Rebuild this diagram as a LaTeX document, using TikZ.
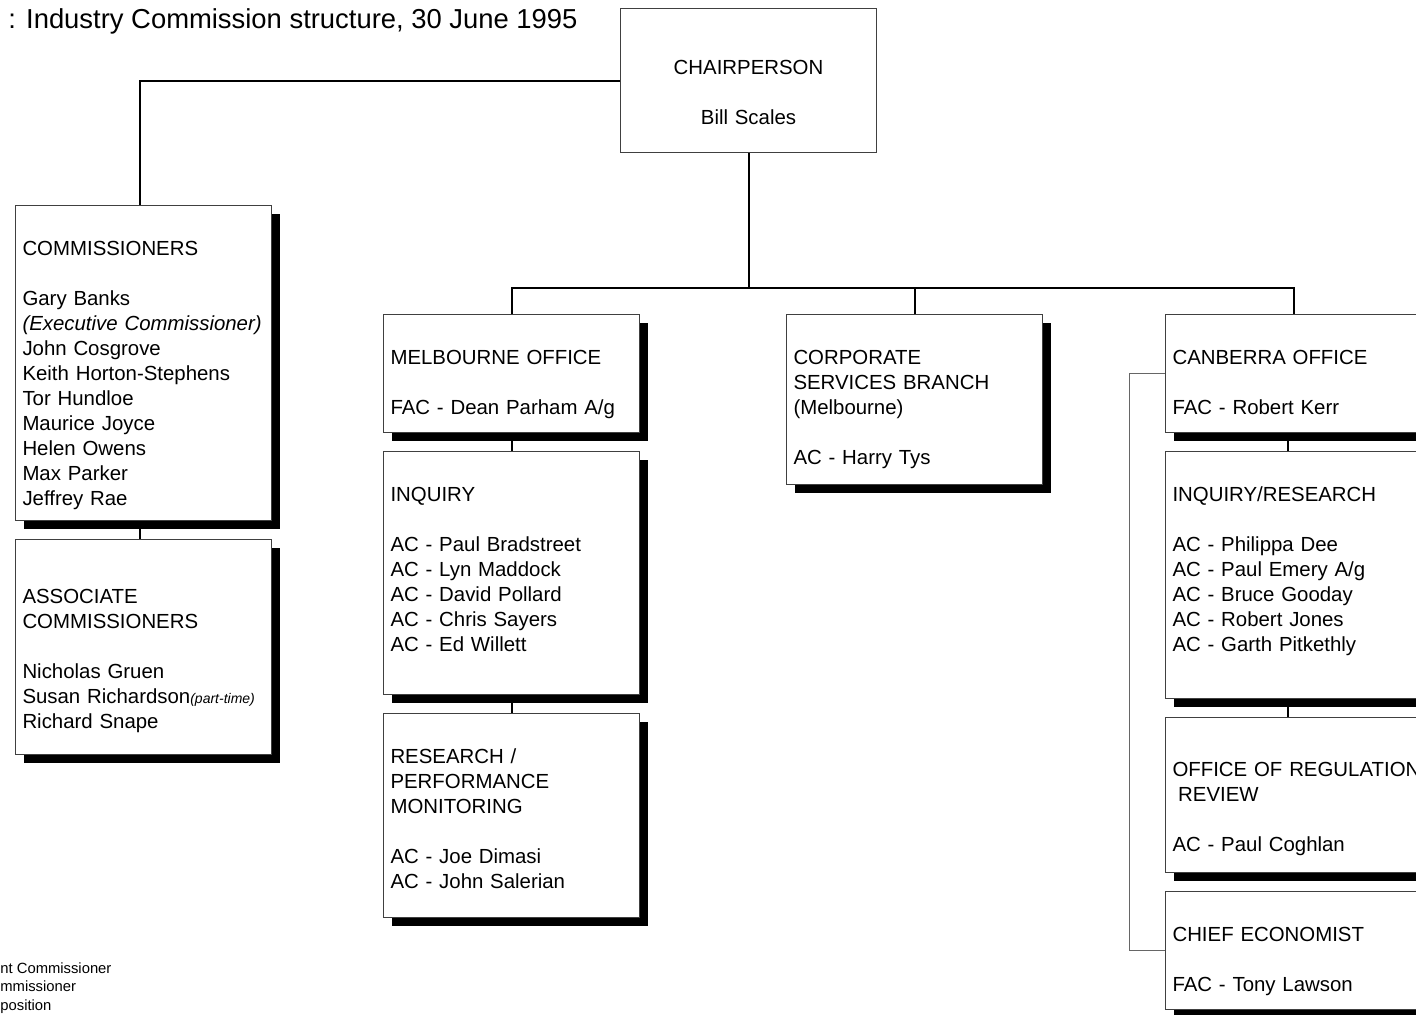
\documentclass[tikz,border=0pt]{standalone}
\usepackage{fontspec}
\setmainfont{Liberation Sans}
\usetikzlibrary{positioning,shadows}

\begin{document}
\begin{tikzpicture}[
  x=0.5pt,y=-0.5pt,
  every node/.style={font=\fontsize{10.2}{12.5}\selectfont},
  head/.style={draw=black!75,line width=0.5pt,fill=white,anchor=north west,
    minimum width=128pt,text width=121pt,inner xsep=3.5pt,inner ysep=0pt,align=center},
  unit/.style={head,align=left,text height=25pt,text depth=#1,
    drop shadow={shadow xshift=4pt,shadow yshift=-4pt,fill=black,opacity=1}},
  link/.style={line width=1pt},
  bracket/.style={draw=black!60,line width=0.5pt},
  note/.style={anchor=base west,inner sep=0pt,font=\fontsize{7.4}{9}\selectfont},
  node distance=9pt
]
  \useasboundingbox[fill=white] (0,0) rectangle (1416,1014);

  \node[anchor=base west,inner sep=0pt,font=\fontsize{13.7}{16}\selectfont] (title) at (8,28)
    {: Industry Commission structure, 30 June 1995};

  \node[head,text height=33pt,text depth=39pt] (chair) at (620,8)
    {CHAIRPERSON\\[12.5pt] Bill Scales};

  \node[unit=132.5pt] (comm) at (15,205)
    {COMMISSIONERS\\[12.5pt]
     Gary Banks\\
     \textit{(Executive Commissioner)}\\
     John Cosgrove\\
     Keith Horton-Stephens\\
     Tor Hundloe\\
     Maurice Joyce\\
     Helen Owens\\
     Max Parker\\
     Jeffrey Rae};
  \node[unit=75.5pt,text height=32pt,below=of comm] (assoc)
    {ASSOCIATE\\ COMMISSIONERS\\[12.5pt]
     Nicholas Gruen\\
     Susan Richardson{\fontsize{7}{8}\selectfont\itshape(part-time)}\\
     Richard Snape};

  \node[unit=34pt] (melb) at (383,314)
    {MELBOURNE OFFICE\\[12.5pt] FAC - Dean Parham A/g};
  \node[unit=96.5pt,below=of melb] (inq)
    {INQUIRY\\[12.5pt]
     AC - Paul Bradstreet\\
     AC - Lyn Maddock\\
     AC - David Pollard\\
     AC - Chris Sayers\\
     AC - Ed Willett};
  \node[unit=77pt,below=of inq] (res)
    {RESEARCH /\\ PERFORMANCE\\ MONITORING\\[12.5pt]
     AC - Joe Dimasi\\
     AC - John Salerian};

  \node[unit=60pt] (corp) at (786,314)
    {CORPORATE\\ SERVICES BRANCH\\ (Melbourne)\\[12.5pt] AC - Harry Tys};

  \node[unit=34pt] (canb) at (1165,314)
    {CANBERRA OFFICE\\[12.5pt] FAC - Robert Kerr};
  \node[unit=98.5pt,below=of canb] (inqres)
    {INQUIRY/RESEARCH\\[12.5pt]
     AC - Philippa Dee\\
     AC - Paul Emery A/g\\
     AC - Bruce Gooday\\
     AC - Robert Jones\\
     AC - Garth Pitkethly};
  \node[unit=48pt,text height=29.5pt,below=of inqres] (orr)
    {\mbox{OFFICE OF REGULATION}\\ \hspace*{0.28em}REVIEW\\[12.5pt] AC - Paul Coghlan};
  \node[unit=34pt,below=of orr] (chief)
    {CHIEF ECONOMIST\\[12.5pt] FAC - Tony Lawson};

  \node[note] (fac) at (0,973) {nt Commissioner};
  \node[note] (ac) at (0,991) {mmissioner};
  \node[note] (ag) at (0,1010) {position};

  \coordinate (bus) at (748,288);
  \draw[link] (chair.west) -| ([xshift=-2pt]comm.north);
  \draw[link] ([xshift=-2pt]comm.south) -- ([xshift=-2pt]assoc.north);
  \draw[link] (chair.south) -- (chair.south |- bus);
  \draw[link] (melb.north) |- (bus) -| (canb.north);
  \draw[link] (corp.north) -- (corp.north |- bus);
  \draw[link] (melb.south) -- (inq.north);
  \draw[link] (inq.south) -- (res.north);
  \draw[link] ([xshift=-3pt]canb.south) -- ([xshift=-3pt]inqres.north);
  \draw[link] ([xshift=-3pt]inqres.south) -- ([xshift=-3pt]orr.north);
  \draw[bracket] (canb.west) -- ++(-18pt,0) |- (chief.west);
\end{tikzpicture}
\end{document}
